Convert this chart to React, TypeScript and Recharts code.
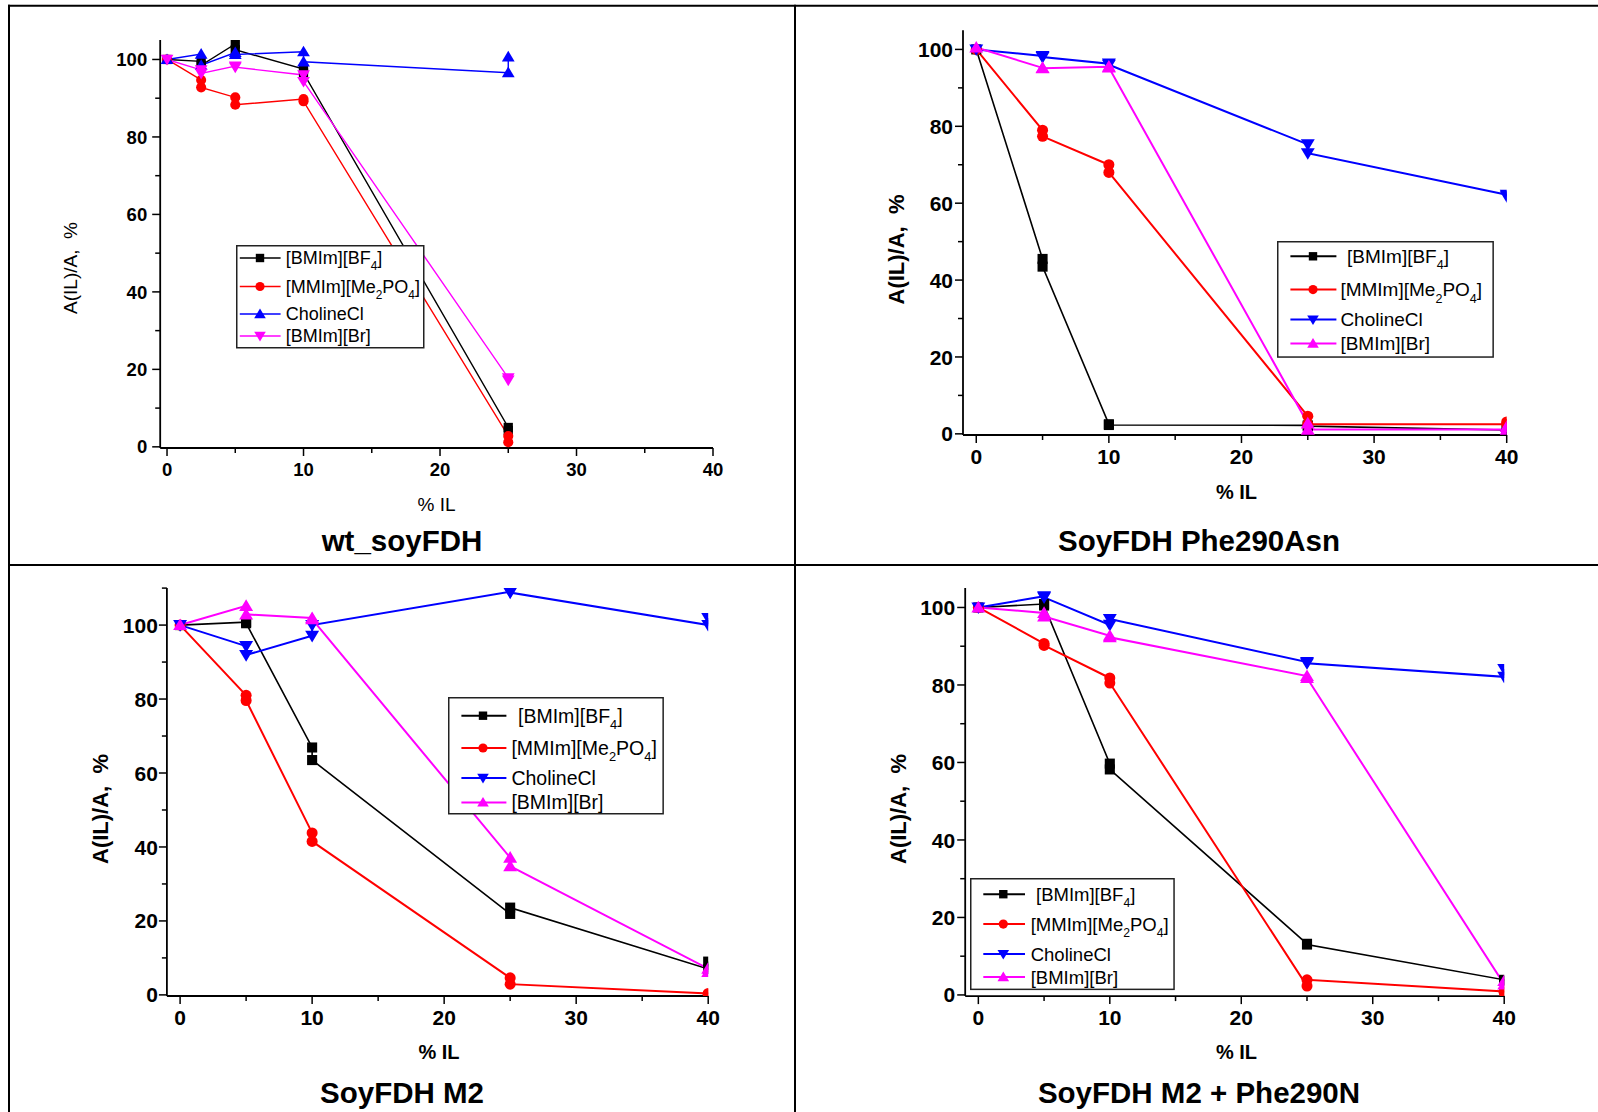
import React from 'react';
import { LineChart, Line, XAxis, YAxis, Legend } from 'recharts';

type Pt = [number, number];
type Shape = 'square' | 'circle' | 'up' | 'down';

// x = % ionic liquid, y = residual activity A(IL)/A in %.
// Replicates share the same x and are joined in measurement order.

// wt_soyFDH
const wtBF4: Pt[] = [[0, 100], [2.5, 99.5], [2.5, 98.5], [5, 104], [5, 102.5], [10, 97.5], [10, 96.5], [25, 5], [25, 4.2]];
const wtMe2PO4: Pt[] = [[0, 100], [2.5, 94.7], [2.5, 92.8], [5, 90.2], [5, 88.3], [10, 89.8], [10, 89.2], [25, 2.8], [25, 1.2]];
const wtCholine: Pt[] = [[0, 100], [2.5, 101.4], [2.5, 98.5], [5, 101.8], [5, 101.3], [10, 102], [10, 99.4], [25, 96.6], [25, 100.7]];
const wtBr: Pt[] = [[0, 100], [2.5, 97.3], [2.5, 96.4], [5, 98.3], [5, 98], [10, 96], [10, 94.3], [25, 17.8], [25, 17.2]];

// SoyFDH Phe290Asn
const f290BF4: Pt[] = [[0, 100], [5, 45.5], [5, 43.5], [10, 2.5], [10, 2.3], [25, 2.2], [25, 2.0], [40, 1.0], [40, 0.8]];
const f290Me2PO4: Pt[] = [[0, 100], [5, 79], [5, 77.4], [10, 70], [10, 68], [25, 4.6], [25, 2.5], [40, 2.5], [40, 3.1]];
const f290Choline: Pt[] = [[0, 100], [5, 98.3], [5, 98], [10, 96.3], [10, 96], [25, 75.3], [25, 73], [40, 62.2], [40, 61.8]];
const f290Br: Pt[] = [[0, 100.5], [5, 95.2], [5, 95.1], [10, 95.5], [10, 95.3], [25, 2.7], [25, 1.1], [40, 1.1], [40, 1.8]];

// SoyFDH M2
const m2BF4: Pt[] = [[0, 100], [5, 100.8], [5, 100.5], [10, 66.9], [10, 63.5], [25, 21.9], [25, 23.6], [40, 7], [40, 9]];
const m2Me2PO4: Pt[] = [[0, 100], [5, 81], [5, 79.6], [10, 43.8], [10, 41.5], [25, 4.6], [25, 2.9], [40, 0.4], [40, 0.2]];
const m2Choline: Pt[] = [[0, 100], [5, 94.3], [5, 91.9], [10, 97.1], [10, 100], [25, 109], [25, 108.8], [40, 100], [40, 101.9]];
const m2Br: Pt[] = [[0, 100], [5, 105.2], [5, 102.9], [10, 101.9], [10, 101.6], [25, 37.1], [25, 34.8], [40, 7.1], [40, 6.2]];

// SoyFDH M2 + Phe290N
const m2fBF4: Pt[] = [[0, 100], [5, 100.9], [5, 100.5], [10, 59.7], [10, 58.2], [25, 13.2], [25, 13], [40, 3.9], [40, 3.6]];
const m2fMe2PO4: Pt[] = [[0, 100], [5, 90.7], [5, 90.2], [10, 81.8], [10, 80.5], [25, 2.3], [25, 3.9], [40, 0.9], [40, 0.6]];
const m2fCholine: Pt[] = [[0, 100], [5, 102.9], [5, 102.6], [10, 95.5], [10, 97], [25, 85.9], [25, 85.6], [40, 82.1], [40, 84.1]];
const m2fBr: Pt[] = [[0, 100], [5, 98.6], [5, 97.7], [10, 92.7], [10, 92.3], [25, 82.3], [25, 81.8], [40, 2.7], [40, 3.6]];

const SERIES_NAMES = ['[BMIm][BF_4]', '[MMIm][Me_2PO_4]', 'CholineCl', '[BMIm][Br]'];
const SERIES_COLORS = ['#000000', '#ff0000', '#0000ff', '#ff00ff'];

const X_TICKS = [0, 5, 10, 15, 20, 25, 30, 35, 40];
const Y_TICKS_100 = [0, 10, 20, 30, 40, 50, 60, 70, 80, 90, 100];
const Y_TICKS_110 = [0, 10, 20, 30, 40, 50, 60, 70, 80, 90, 100, 110];

const PANEL_TITLES = ['wt_soyFDH', 'SoyFDH Phe290Asn', 'SoyFDH M2', 'SoyFDH M2 + Phe290N'];
const Y_TITLE = 'A(IL)/A,\u00a0\u00a0%';
const X_TITLE = '%\u00a0IL';

const FONT = '"Liberation Sans", Arial, Helvetica, sans-serif';
// thickness given to each axis band so the axes are drawn
const AXIS_BAND = 1;

type Box = { left: number; top: number; w: number; h: number };
type LegendCfg = Box & { rows: number[]; sample: [number, number]; marker: number; textX: number[]; font: number; lineW: number };
type PanelCfg = {
  frame: Box;
  plot: { left: number; right: number; top: number; bottom: number };
  xDomain: [number, number];
  yDomain: [number, number];
  yTicks: number[];
  tickFont: number;
  yLabelGap: number;
  series: Pt[][];
  shapes: Shape[];
  lineW: number[];
  markerSize: number;
  legend: LegendCfg;
};

const PANELS: PanelCfg[] = [
  {
    frame: { left: 10, top: 7, w: 784, h: 557 },
    plot: { left: 160.2, right: 713, top: 40.1, bottom: 448 },
    xDomain: [-0.5, 40],
    yDomain: [-0.3, 105],
    yTicks: Y_TICKS_100,
    tickFont: 18.5,
    yLabelGap: 13,
    series: [wtBF4, wtMe2PO4, wtCholine, wtBr],
    shapes: ['square', 'circle', 'up', 'down'],
    lineW: [1.4, 1.4, 1.4, 1.4],
    markerSize: 11,
    legend: { left: 236, top: 245, w: 187, h: 102, rows: [13, 41.5, 69, 91], sample: [3.8, 44.6], marker: 24, textX: [49.7, 49.7, 49.7, 49.7], font: 18, lineW: 1.4 },
  },
  {
    frame: { left: 796, top: 7, w: 800, h: 557 },
    plot: { left: 963, right: 1506.7, top: 30.2, bottom: 435 },
    xDomain: [-1, 40],
    yDomain: [-0.3, 105],
    yTicks: Y_TICKS_100,
    tickFont: 21,
    yLabelGap: 10,
    series: [f290BF4, f290Me2PO4, f290Choline, f290Br],
    shapes: ['square', 'circle', 'down', 'up'],
    lineW: [1.6, 2, 2, 2],
    markerSize: 12,
    legend: { left: 1277.3, top: 240.7, w: 215.4, h: 115.3, rows: [15.3, 48.6, 78.6, 102.6], sample: [13.4, 59.4], marker: 36, textX: [70, 63.4, 63.4, 63.4], font: 19, lineW: 2 },
  },
  {
    frame: { left: 10, top: 566, w: 784, h: 546 },
    plot: { left: 166.9, right: 708.2, top: 588.1, bottom: 996 },
    xDomain: [-1, 40],
    yDomain: [-0.3, 110],
    yTicks: Y_TICKS_110,
    tickFont: 21,
    yLabelGap: 9,
    series: [m2BF4, m2Me2PO4, m2Choline, m2Br],
    shapes: ['square', 'circle', 'down', 'up'],
    lineW: [1.6, 2, 2, 2],
    markerSize: 12,
    legend: { left: 448.3, top: 697.3, w: 214.4, h: 116, rows: [18.7, 51, 81, 105.4], sample: [13.4, 58.4], marker: 35, textX: [70, 63.4, 63.4, 63.4], font: 19.5, lineW: 2 },
  },
  {
    frame: { left: 796, top: 566, w: 800, h: 546 },
    plot: { left: 965.2, right: 1504.2, top: 588.1, bottom: 996.1 },
    xDomain: [-1, 40],
    yDomain: [-0.3, 105],
    yTicks: Y_TICKS_100,
    tickFont: 21,
    yLabelGap: 10,
    series: [m2fBF4, m2fMe2PO4, m2fCholine, m2fBr],
    shapes: ['square', 'circle', 'down', 'up'],
    lineW: [1.6, 2, 2, 2],
    markerSize: 12,
    legend: { left: 970, top: 878.3, w: 203.3, h: 110.6, rows: [16.2, 46.1, 76.1, 99], sample: [13.3, 55], marker: 33.3, textX: [66, 60.7, 60.7, 60.7], font: 18.5, lineW: 2 },
  },
];

// Axis and panel titles, page coordinates
const PANEL_TEXT = [
  { yl: [70, 268], ylSize: 19, ylWeight: 'normal', xl: [436.5, 504.5], xlSize: 19, xlWeight: 'normal', t: [402, 540] },
  { yl: [896, 249.5], ylSize: 22, ylWeight: 'bold', xl: [1236.5, 492], xlSize: 20, xlWeight: 'bold', t: [1199, 540] },
  { yl: [100, 809], ylSize: 22, ylWeight: 'bold', xl: [439, 1052], xlSize: 20, xlWeight: 'bold', t: [402, 1092] },
  { yl: [898.6, 809], ylSize: 22, ylWeight: 'bold', xl: [1236.5, 1052], xlSize: 20, xlWeight: 'bold', t: [1199, 1092] },
];
const TITLE_SIZE = 29.5;

function Marker({ cx, cy, shape, color, size }: { cx: number; cy: number; shape: Shape; color: string; size: number }) {
  if (cx == null || cy == null || isNaN(cx) || isNaN(cy)) return null;
  const s = size;
  if (shape === 'square') return <rect x={cx - s * 0.42} y={cy - s * 0.42} width={s * 0.84} height={s * 0.84} fill={color} />;
  if (shape === 'circle') return <circle cx={cx} cy={cy} r={s * 0.46} fill={color} />;
  if (shape === 'up')
    return <polygon points={`${cx},${cy - s * 0.55} ${cx + s * 0.58},${cy + s * 0.42} ${cx - s * 0.58},${cy + s * 0.42}`} fill={color} />;
  return <polygon points={`${cx},${cy + s * 0.55} ${cx + s * 0.58},${cy - s * 0.42} ${cx - s * 0.58},${cy - s * 0.42}`} fill={color} />;
}

function SubText({ label, x, y, size }: { label: string; x: number; y: number; size: number }) {
  const parts = label.split(/_(\d)/);
  const out: React.ReactNode[] = [];
  let lowered = false;
  parts.forEach((s, i) => {
    if (!s) return;
    const isSub = i % 2 === 1;
    let dy = 0;
    if (isSub && !lowered) {
      dy = size * 0.32;
      lowered = true;
    } else if (!isSub && lowered) {
      dy = -size * 0.32;
      lowered = false;
    }
    out.push(
      <tspan key={i} dy={dy || undefined} fontSize={isSub ? size * 0.66 : size}>
        {s}
      </tspan>
    );
  });
  return (
    <text x={x} y={y} fontFamily={FONT} fontSize={size} fill="#000">
      {out}
    </text>
  );
}

function LegendBox({ cfg, shapes }: { cfg: LegendCfg; shapes: Shape[] }) {
  return (
    <svg width={cfg.w + 2} height={cfg.h + 2} style={{ display: 'block', overflow: 'visible' }}>
      <rect x={0.75} y={0.75} width={cfg.w} height={cfg.h} fill="#fff" stroke="#222" strokeWidth={1.5} />
      {SERIES_NAMES.map((name, i) => {
        const ry = cfg.rows[i];
        return (
          <g key={name}>
            <line x1={cfg.sample[0]} x2={cfg.sample[1]} y1={ry} y2={ry} stroke={SERIES_COLORS[i]} strokeWidth={cfg.lineW} />
            <Marker cx={cfg.marker} cy={ry} shape={shapes[i]} color={SERIES_COLORS[i]} size={10} />
            <SubText label={name} x={cfg.textX[i]} y={ry + cfg.font * 0.36} size={cfg.font} />
          </g>
        );
      })}
    </svg>
  );
}

const XTick = (p: any) => {
  const { x, y, payload, fs } = p;
  const v = payload.value;
  const major = v % 10 === 0;
  return (
    <g>
      <line x1={x} y1={y} x2={x} y2={y + (major ? 8 : 5)} stroke="#000" strokeWidth={1.5} />
      {major && (
        <text x={x} y={y + 21 + fs * 0.36} textAnchor="middle" fontFamily={FONT} fontWeight="bold" fontSize={fs} fill="#000">
          {v}
        </text>
      )}
    </g>
  );
};

const YTick = (p: any) => {
  const { x, y, payload, fs, gap } = p;
  const v = payload.value;
  const major = v % 20 === 0 && v <= 100;
  return (
    <g>
      <line x1={x - (major ? 8 : 5)} y1={y} x2={x} y2={y} stroke="#000" strokeWidth={1.5} />
      {major && (
        <text x={x - gap} y={y + fs * 0.36} textAnchor="end" fontFamily={FONT} fontWeight="bold" fontSize={fs} fill="#000">
          {v}
        </text>
      )}
    </g>
  );
};

function Panel({ cfg }: { cfg: PanelCfg }) {
  const { frame, plot, legend } = cfg;
  const margin = {
    left: plot.left - frame.left - AXIS_BAND,
    top: plot.top - frame.top,
    right: frame.left + frame.w - plot.right,
    bottom: frame.top + frame.h - plot.bottom - AXIS_BAND,
  };
  return (
    <div style={{ position: 'absolute', left: frame.left, top: frame.top, width: frame.w, height: frame.h }}>
      <LineChart width={frame.w} height={frame.h} margin={margin}>
        <XAxis
          type="number"
          dataKey="x"
          domain={cfg.xDomain}
          ticks={X_TICKS}
          interval={0}
          allowDataOverflow
          height={AXIS_BAND}
          tickSize={0}
          tickMargin={0}
          tickLine={false}
          axisLine={{ stroke: '#000', strokeWidth: 1.8 }}
          tick={(p: any) => <XTick {...p} fs={cfg.tickFont} />}
        />
        <YAxis
          type="number"
          dataKey="y"
          domain={cfg.yDomain}
          ticks={cfg.yTicks}
          interval={0}
          allowDataOverflow
          width={AXIS_BAND}
          tickSize={0}
          tickMargin={0}
          tickLine={false}
          axisLine={{ stroke: '#000', strokeWidth: 1.8 }}
          tick={(p: any) => <YTick {...p} fs={cfg.tickFont} gap={cfg.yLabelGap} />}
        />
        {cfg.series.map((pts, i) => (
          <Line
            key={SERIES_NAMES[i]}
            name={SERIES_NAMES[i]}
            data={pts.map(([x, y]) => ({ x, y }))}
            dataKey="y"
            type="linear"
            stroke={SERIES_COLORS[i]}
            strokeWidth={cfg.lineW[i]}
            isAnimationActive={false}
            activeDot={false}
            dot={(p: any) => (
              <Marker key={`d-${i}-${p.index}`} cx={p.cx} cy={p.cy} shape={cfg.shapes[i]} color={SERIES_COLORS[i]} size={cfg.markerSize} />
            )}
          />
        ))}
        <Legend
          layout="vertical"
          align="center"
          verticalAlign="middle"
          wrapperStyle={{ left: legend.left - frame.left, top: legend.top - frame.top, width: legend.w + 2, height: legend.h + 2 }}
          content={() => <LegendBox cfg={legend} shapes={cfg.shapes} />}
        />
      </LineChart>
    </div>
  );
}

export default function App() {
  return (
    <div style={{ position: 'absolute', left: 0, top: 0, width: 1598, height: 1112, overflow: 'hidden', background: '#fff' }}>
      <svg width={1598} height={1112} style={{ position: 'absolute', left: 0, top: 0 }}>
        <line x1={9} y1={4.7} x2={9} y2={1112} stroke="#000" strokeWidth={2} />
        <line x1={8} y1={5.7} x2={1598} y2={5.7} stroke="#000" strokeWidth={2} />
        <line x1={795} y1={4.7} x2={795} y2={1112} stroke="#000" strokeWidth={2} />
        <line x1={8} y1={565} x2={1598} y2={565} stroke="#000" strokeWidth={2} />
        {PANEL_TEXT.map((t, i) => (
          <g key={i} fontFamily={FONT} fill="#000">
            <text
              x={t.yl[0]}
              y={t.yl[1]}
              transform={`rotate(-90 ${t.yl[0]} ${t.yl[1]})`}
              textAnchor="middle"
              dominantBaseline="central"
              fontSize={t.ylSize}
              fontWeight={t.ylWeight}
            >
              {Y_TITLE}
            </text>
            <text x={t.xl[0]} y={t.xl[1]} textAnchor="middle" dominantBaseline="central" fontSize={t.xlSize} fontWeight={t.xlWeight}>
              {X_TITLE}
            </text>
            <text x={t.t[0]} y={t.t[1]} textAnchor="middle" dominantBaseline="central" fontSize={TITLE_SIZE} fontWeight="bold">
              {PANEL_TITLES[i]}
            </text>
          </g>
        ))}
      </svg>
      {PANELS.map((cfg, i) => (
        <Panel key={i} cfg={cfg} />
      ))}
    </div>
  );
}
